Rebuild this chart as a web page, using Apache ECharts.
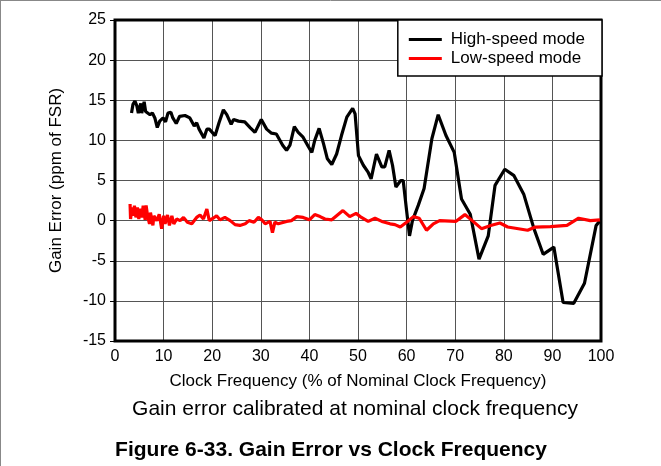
<!DOCTYPE html>
<html>
<head>
<meta charset="utf-8">
<script src="https://cdn.jsdelivr.net/npm/echarts@6/dist/echarts.min.js"></script>
<style>
html,body{margin:0;padding:0;background:#fff;}
#chart{width:661px;height:466px;}
</style>
</head>
<body>
<div id="chart"></div>
<script>
// Clock frequency (% of nominal) and gain error (ppm of FSR)
var highX = [3.4,3.7,4.1,4.5,4.8,5.3,5.5,6.0,6.3,6.7,7.2,7.7,8.2,8.7,9.2,9.9,10.4,10.9,11.5,11.9,12.6,13.3,14.4,15.4,16.3,16.8,17.3,18.3,18.9,19.4,20.6,21.4,22.3,23.0,23.9,24.4,25.4,26.7,27.8,28.8,29.1,30.1,31.2,32.2,33.2,34.5,35.3,36.0,36.9,37.7,38.7,39.8,40.5,41.1,42.0,42.9,43.7,44.6,45.6,46.6,47.7,48.9,49.4,50.1,51.1,52.1,52.7,53.8,54.9,55.5,56.4,57.1,57.8,58.8,59.3,60.0,60.6,61.2,62.4,63.6,65.2,66.5,68.1,69.8,71.3,73.1,74.9,76.8,78.2,80.2,82.1,84.1,86.2,88.1,90.3,92.2,94.4,96.6,99.0,99.8];
var highY = [13.4,14.5,14.9,14.3,13.4,14.6,13.4,14.8,13.6,13.8,13.2,13.4,12.8,11.6,12.4,12.8,12.3,13.4,13.5,12.8,12.1,13.0,13.1,12.8,11.8,12.2,11.4,10.3,11.4,11.4,10.6,12.2,13.8,13.2,12.0,12.6,12.4,12.3,11.6,11.0,10.9,12.6,11.4,10.9,10.8,9.4,8.75,9.4,11.7,11.0,10.4,9.2,8.5,10.0,11.5,9.6,7.7,7.0,8.3,10.6,12.9,14.0,13.3,8.1,6.9,6.0,5.2,8.3,6.7,6.7,8.75,6.9,4.2,5.0,5.0,1.25,-1.9,0,1.9,4.0,10.2,13.2,10.6,8.5,2.7,0.8,-4.8,-1.9,4.4,6.4,5.6,3.3,-1.0,-4.2,-3.3,-10.2,-10.3,-7.8,-0.6,0];
var lowX = [3.1,3.2,3.5,3.8,4.0,4.3,4.6,4.9,5.1,5.5,5.8,6.2,6.4,6.7,7.1,7.3,7.8,8.0,8.6,9.1,9.6,10.0,10.3,10.8,11.2,11.7,12.1,12.7,13.4,14.1,14.9,15.8,16.8,17.5,18.2,18.9,19.4,20.2,20.9,21.6,22.6,23.7,24.7,25.7,26.8,27.6,28.6,29.5,30.2,30.9,31.9,32.4,32.9,33.6,35.3,36.3,37.4,38.7,40.0,41.1,42.2,43.2,44.6,45.6,46.9,48.3,49.6,50.7,52.1,53.5,54.9,56.6,57.6,58.7,60.0,61.4,62.6,64.1,65.5,66.8,70.1,72.0,73.5,75.4,77.3,79.2,80.8,84.9,86.5,89.6,93.0,95.4,97.8,99.8];
var lowY = [2.07,0.2,1.65,0.6,1.86,0.4,1.65,0.2,1.5,0.4,1.86,0.1,1.9,0.6,-0.4,1.0,-0.6,0.6,0,0.8,-1.0,0.6,-0.4,0.7,-0.6,0.6,-0.4,0.2,0,0.4,-0.2,-0.4,0.4,0.7,0.2,1.45,0,0.3,0.6,0.1,0.4,0,-0.5,-0.6,-0.4,0,-0.2,0.4,0.1,-0.4,-0.1,-1.5,-0.2,-0.4,-0.1,0,0.5,0.4,0.1,0.75,0.5,0.2,0.1,0.6,1.25,0.5,0.9,0.4,-0.1,0.3,-0.1,-0.4,-0.5,-0.8,-0.2,0.5,0.3,-1.2,-0.4,0,-0.1,0.75,0,-1.0,-0.6,-0.3,-0.8,-1.2,-0.8,-0.75,-0.6,0.3,0,0.1];
var seriesNames = ['High-speed mode','Low-speed mode'];
var xTicks = {min:0, max:100, step:10};
var yTicks = {min:-15, max:25, step:5};
var xName = 'Clock Frequency (% of Nominal Clock Frequency)';
var yName = 'Gain Error (ppm of FSR)';
var subTitle = 'Gain error calibrated at nominal clock frequency';
var figTitle = 'Figure 6-33. Gain Error vs Clock Frequency';

function pairs(xs, ys){ return xs.map(function(x,i){ return [x, ys[i]]; }); }

var chart = echarts.init(document.getElementById('chart'), null, {renderer:'canvas'});
var font = '"Liberation Sans", Arial, sans-serif';
chart.setOption({
  animation:false,
  backgroundColor:'#fff',
  textStyle:{fontFamily:font},
  grid:{left:115, right:60, top:20, bottom:125, show:true, borderColor:'#000', borderWidth:3, backgroundColor:'transparent', z:3},
  legend:{
    right:59, top:20, orient:'vertical', icon:'rect',
    backgroundColor:'#fff', borderColor:'#000', borderWidth:1.5,
    padding:[11,17,9,11], itemGap:2, itemWidth:33, itemHeight:3,
    textStyle:{fontSize:17, color:'#000', fontFamily:font, padding:[0,0,0,4]},
    data:seriesNames
  },
  xAxis:{
    type:'value', min:xTicks.min, max:xTicks.max, interval:xTicks.step,
    name:xName, nameLocation:'middle', nameGap:32,
    nameTextStyle:{fontSize:17, color:'#000', fontFamily:font},
    axisLine:{show:false},
    axisTick:{show:false},
    axisLabel:{fontSize:16, color:'#000', margin:8, fontFamily:font},
    splitLine:{show:true, lineStyle:{color:'#555', width:1}}
  },
  yAxis:{
    type:'value', min:yTicks.min, max:yTicks.max, interval:yTicks.step,
    name:yName, nameLocation:'middle', nameGap:50,
    nameTextStyle:{fontSize:17, color:'#000', fontFamily:font},
    axisLine:{show:false},
    axisTick:{show:true, length:5, lineStyle:{color:'#000', width:1}},
    axisLabel:{fontSize:16, color:'#000', margin:9, fontFamily:font},
    splitLine:{show:true, lineStyle:{color:'#555', width:1}}
  },
  series:[
    {name:seriesNames[0], type:'line', data:pairs(highX, highY), showSymbol:false, symbol:'none', color:'#000', lineStyle:{color:'#000', width:3.2}, z:5},
    {name:seriesNames[1], type:'line', data:pairs(lowX, lowY), showSymbol:false, symbol:'none', color:'#ff0000', lineStyle:{color:'#ff0000', width:3.2}, z:6}
  ],
  graphic:[
    {type:'line', shape:{x1:0, y1:0.5, x2:661, y2:0.5}, style:{stroke:'#888', lineWidth:1}},
    {type:'line', shape:{x1:0.5, y1:0, x2:0.5, y2:466}, style:{stroke:'#888', lineWidth:1}},
    {type:'text', x:355, y:409, style:{text:subTitle, textAlign:'center', textVerticalAlign:'middle', font:'21px ' + font, fill:'#000'}},
    {type:'text', x:331, y:450, style:{text:figTitle, textAlign:'center', textVerticalAlign:'middle', font:'bold 21px ' + font, fill:'#000'}}
  ]
});
</script>
</body>
</html>
